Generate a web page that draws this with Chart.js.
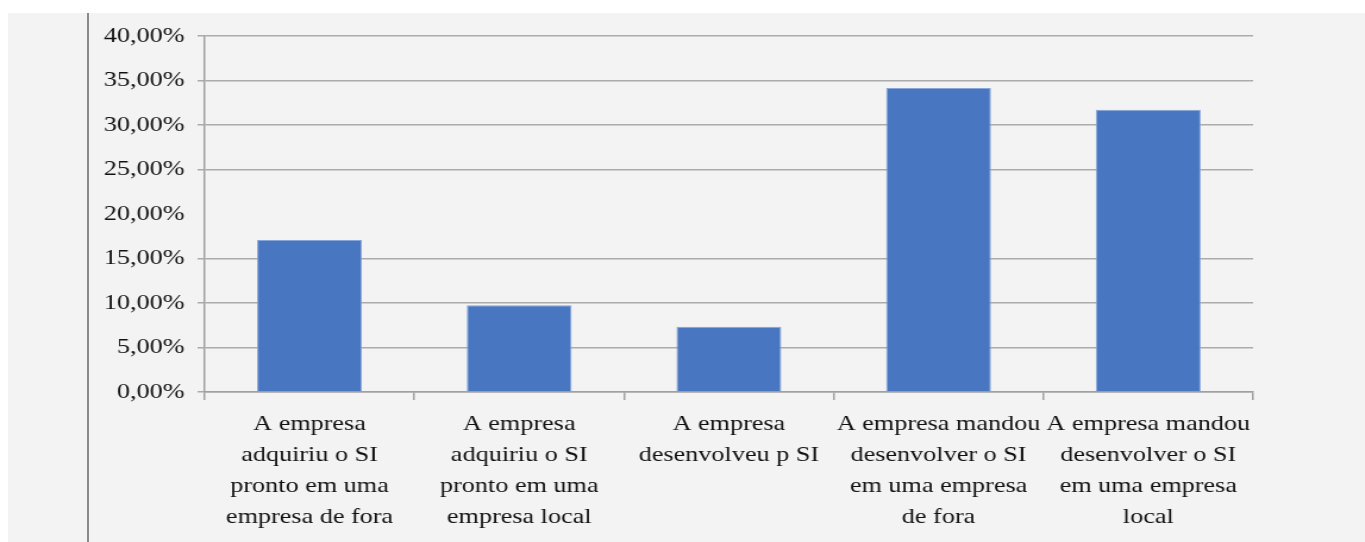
<!DOCTYPE html>
<html>
<head>
<meta charset="utf-8">
<title>Origem do SI</title>
<script src="https://cdn.jsdelivr.net/npm/chart.js@4.4.1/dist/chart.umd.min.js"></script>
<style>
  html, body { margin: 0; padding: 0; background: #ffffff; }
  body { width: 1365px; height: 542px; overflow: hidden; position: relative; }
  #panel { position: absolute; left: 8px; top: 13px; right: 0; bottom: 0; background: #f3f3f3; }
  #rule { position: absolute; left: 87px; top: 13px; bottom: 0; width: 1.5px; background: #8a8a8a; }
  /* the chart is drawn narrow and stretched sideways, like the wide serif labels */
  #wrap { position: absolute; left: 0; top: 0; width: 1147px; height: 542px;
          transform: scaleX(1.19); transform-origin: 0 0; }
</style>
</head>
<body>
<div id="panel"></div>
<div id="rule"></div>
<div id="wrap"><canvas id="chart"></canvas></div>
<script>
var categories = [
  ['A empresa', 'adquiriu o SI', 'pronto em uma', 'empresa de fora'],
  ['A empresa', 'adquiriu o SI', 'pronto em uma', 'empresa local'],
  ['A empresa', 'desenvolveu p SI'],
  ['A empresa mandou', 'desenvolver o SI', 'em uma empresa', 'de fora'],
  ['A empresa mandou', 'desenvolver o SI', 'em uma empresa', 'local']
];
var percentages = [17.07, 9.76, 7.32, 34.15, 31.71];
var yMin = 0;
var yMax = 40;
var yStep = 5;
var hiddenGridValue = 20;

document.addEventListener('DOMContentLoaded', function() {
  var ctx = document.getElementById('chart').getContext('2d');
  var gridColor = '#ababab';
  var labelFont = { family: '"Liberation Serif", "Times New Roman", serif', size: 22, lineHeight: 1.4 };

  // the 20% rule (and its tick) is not drawn
  function isHidden(c) {
    return c.tick && Math.abs(c.tick.value - hiddenGridValue) < 1e-9;
  }

  function formatPercent(value) {
    return value.toFixed(2).replace('.', ',') + '%';
  }

  new Chart(ctx, {
    type: 'bar',
    data: {
      labels: categories,
      datasets: [{
        data: percentages,
        backgroundColor: '#4976c0',
        borderColor: '#86a5d9',
        borderWidth: 1,
        categoryPercentage: 1,
        barPercentage: 0.5
      }]
    },
    options: {
      responsive: true,
      maintainAspectRatio: false,
      animation: false,
      layout: { padding: { left: 0, right: 94, top: 36, bottom: 0 } },
      plugins: {
        legend: { display: false },
        tooltip: { enabled: false }
      },
      scales: {
        x: {
          grid: {
            offset: true,
            drawOnChartArea: false,
            drawTicks: true,
            tickLength: 8,
            color: '#a0a0a0',
            lineWidth: 1.5
          },
          border: { display: true, color: '#a0a0a0', width: 1.5 },
          ticks: {
            autoSkip: false,
            maxRotation: 0,
            minRotation: 0,
            padding: 9,
            color: '#111111',
            font: labelFont
          },
          afterFit: function(scale) { scale.height = 150; }
        },
        y: {
          min: yMin,
          max: yMax,
          grid: {
            tickLength: 6,
            lineWidth: function(c) { return isHidden(c) ? 0 : 1.5; },
            tickWidth: function(c) { return isHidden(c) ? 0 : 1.5; },
            color: function(c) { return isHidden(c) ? 'rgba(0,0,0,0)' : gridColor; }
          },
          border: { display: true, color: '#a0a0a0', width: 1.5 },
          ticks: {
            stepSize: yStep,
            padding: 11,
            color: '#111111',
            font: labelFont,
            callback: function(value) { return formatPercent(value); }
          },
          afterFit: function(scale) { scale.width = 172; }
        }
      }
    }
  });
});
</script>
</body>
</html>
